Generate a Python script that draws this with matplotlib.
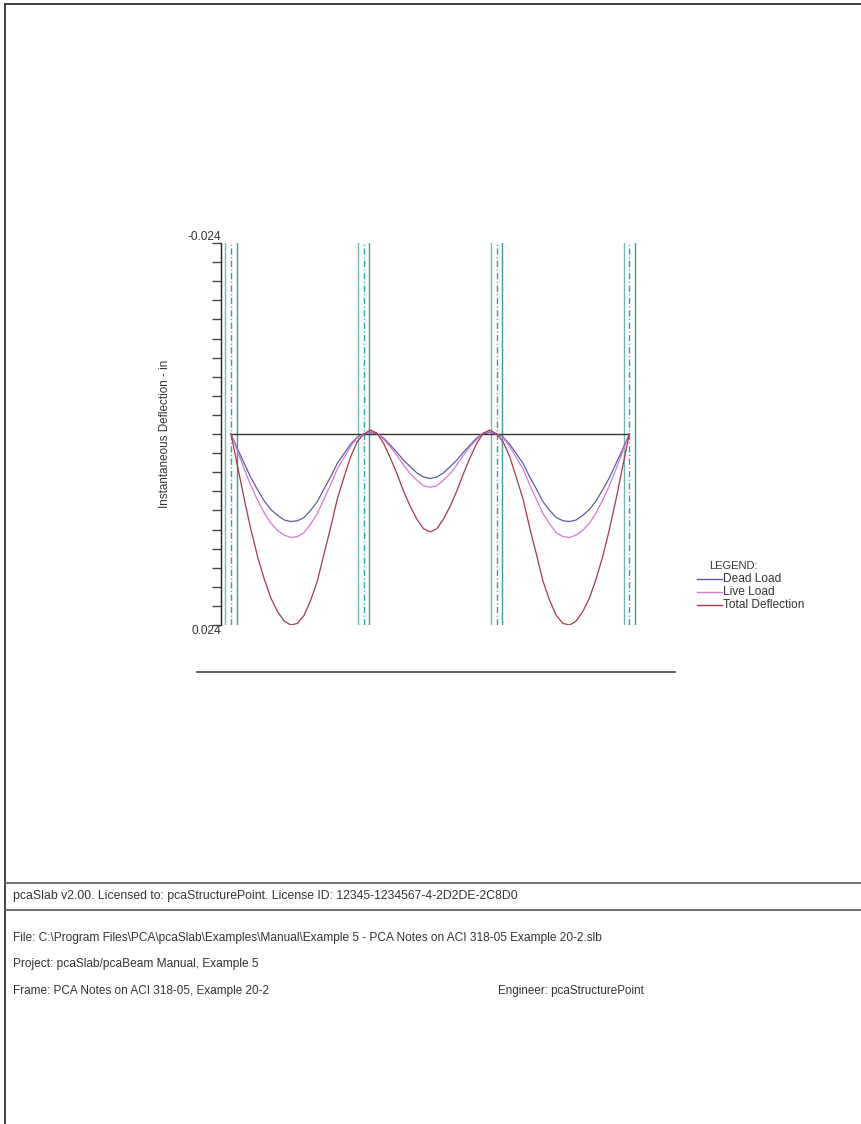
import matplotlib.pyplot as plt
from matplotlib.lines import Line2D
import numpy as np

plt.rcParams['font.family'] = ['Liberation Sans', 'DejaVu Sans']

# beam stations (ft), columns at 0, 20, 40, 60 ft, 20 in wide
x_ft = list(range(0, 61))
col_centers = [0, 20, 40, 60]
col_half = 10 / 12.0

# instantaneous deflections (in), positive = downward
dead = [0.0, 0.0019, 0.0037, 0.0055, 0.0070, 0.0084, 0.0095, 0.0102, 0.0108, 0.0110,
        0.0109, 0.0105, 0.0096, 0.0085, 0.0069, 0.0054, 0.0037, 0.0025, 0.0013, 0.0004,
        0.0, -0.0002, 0.0, 0.0005, 0.0014, 0.0023, 0.0033, 0.0041, 0.0049, 0.0054,
        0.0056, 0.0054, 0.0049, 0.0041, 0.0033, 0.0023, 0.0014, 0.0005, 0.0, -0.0002,
        0.0, 0.0004, 0.0013, 0.0025, 0.0037, 0.0054, 0.0069, 0.0085, 0.0096, 0.0105,
        0.0109, 0.0110, 0.0108, 0.0102, 0.0095, 0.0084, 0.0070, 0.0055, 0.0037, 0.0019, 0.0]
live = [0.0, 0.0022, 0.0044, 0.0065, 0.0083, 0.0099, 0.0112, 0.0121, 0.0127, 0.0130,
        0.0129, 0.0124, 0.0113, 0.0100, 0.0082, 0.0064, 0.0044, 0.0030, 0.0016, 0.0005,
        0.0, -0.0003, -0.0001, 0.0007, 0.0016, 0.0027, 0.0039, 0.0050, 0.0058, 0.0065,
        0.0067, 0.0065, 0.0058, 0.0050, 0.0039, 0.0027, 0.0016, 0.0007, -0.0001, -0.0003,
        0.0, 0.0005, 0.0016, 0.0030, 0.0044, 0.0064, 0.0082, 0.0100, 0.0113, 0.0124,
        0.0129, 0.0130, 0.0127, 0.0121, 0.0112, 0.0099, 0.0083, 0.0065, 0.0044, 0.0022, 0.0]
total = [0.0, 0.0041, 0.0082, 0.0120, 0.0154, 0.0182, 0.0206, 0.0223, 0.0235, 0.0240,
         0.0238, 0.0228, 0.0209, 0.0185, 0.0151, 0.0118, 0.0082, 0.0055, 0.0029, 0.0010,
         0.0, -0.0005, -0.0001, 0.0012, 0.0030, 0.0050, 0.0072, 0.0091, 0.0107, 0.0119,
         0.0123, 0.0119, 0.0107, 0.0091, 0.0072, 0.0050, 0.0030, 0.0012, -0.0001, -0.0005,
         0.0, 0.0010, 0.0029, 0.0055, 0.0082, 0.0118, 0.0151, 0.0185, 0.0209, 0.0228,
         0.0238, 0.0240, 0.0235, 0.0223, 0.0206, 0.0182, 0.0154, 0.0120, 0.0082, 0.0041, 0.0]

series_names = ['Dead Load', 'Live Load', 'Total Deflection']
series_colors = ['#5c5ca4', '#d27ad2', '#a33a4a']
y_lim = 0.024

license_line = 'pcaSlab v2.00. Licensed to: pcaStructurePoint. License ID: 12345-1234567-4-2D2DE-2C8D0'
footer_lines = [
    'File: C:\\Program Files\\PCA\\pcaSlab\\Examples\\Manual\\Example 5 - PCA Notes on ACI 318-05 Example 20-2.slb',
    'Project: pcaSlab/pcaBeam Manual, Example 5',
    'Frame: PCA Notes on ACI 318-05, Example 20-2',
]
engineer_line = 'Engineer: pcaStructurePoint'

W, H = 862, 1124
def fx(px):
    return px / W
def fy(py):
    return 1 - py / H

txt = '#333333'
fig = plt.figure(figsize=(W / 100, H / 100), dpi=100)

# plot area: y axis at x=221px, from 243px to 625px
ax = fig.add_axes([fx(221), fy(625), fx(640) - fx(221), fy(243) - fy(625)])
px_per_ft = (629.3 - 231) / 60.0
ax.set_xlim((221 - 231) / px_per_ft, (640 - 231) / px_per_ft)
ax.set_ylim(y_lim, -y_lim)

for s in ['top', 'right', 'bottom']:
    ax.spines[s].set_visible(False)
ax.spines['left'].set_color('#222222')
ax.spines['left'].set_linewidth(1.0)
ax.set_xticks([])
ax.set_yticks(np.linspace(-y_lim, y_lim, 21))
ax.tick_params(axis='y', direction='out', length=6.5, width=1.0, color='#444444',
               labelleft=False)

# columns: faces and centre lines
for c in col_centers:
    ax.axvline(c - col_half, color='#6fb8b8', lw=1.0)
    ax.axvline(c + col_half, color='#3a9c9c', lw=1.0)
    ax.axvline(c, color='#3a9c9c', lw=1.0, linestyle=(0, (4.5, 1.8, 0.8, 1.8)))

# reference line
ax.plot([x_ft[0], x_ft[-1]], [0, 0], color='#333333', lw=1.0)

for vals, name, col in zip([dead, live, total], series_names, series_colors):
    ax.plot(x_ft, vals, color=col, lw=0.9, label=name)

ax.text(0, 1, '-0.024', transform=ax.transAxes, ha='right', va='bottom',
        fontsize=8.6, color=txt)
ax.text(0, 0, '0.024', transform=ax.transAxes, ha='right', va='top',
        fontsize=8.6, color=txt)
fig.text(fx(165), fy(434), 'Instantaneous Deflection - in', rotation=90,
         ha='center', va='center', fontsize=8.4, color=txt)

# legend
fig.text(fx(709), fy(566), 'LEGEND:', ha='left', va='center', fontsize=8.0, color=txt)
for i, (name, col) in enumerate(zip(series_names, series_colors)):
    yy = 579 + 13 * i
    fig.add_artist(Line2D([fx(697), fx(722)], [fy(yy), fy(yy)], color=col, lw=1.0))
    fig.text(fx(723), fy(yy), name, ha='left', va='center', fontsize=8.6, color=txt)

# line under plot
fig.add_artist(Line2D([fx(197), fx(675)], [fy(672), fy(672)], color='#444444', lw=1.2))

# page frame
fig.add_artist(Line2D([fx(5), fx(5)], [fy(4), fy(1124)], color='#333333', lw=1.3))
fig.add_artist(Line2D([fx(5), fx(862)], [fy(4), fy(4)], color='#333333', lw=1.3))
fig.add_artist(Line2D([fx(5), fx(862)], [fy(883), fy(883)], color='#666666', lw=1.3))
fig.add_artist(Line2D([fx(5), fx(862)], [fy(910), fy(910)], color='#666666', lw=1.3))

fig.text(fx(13), fy(896), license_line, ha='left', va='center', fontsize=8.8, color=txt)
footer_sizes = [8.6, 8.6, 8.5]
for i, (line, fs) in enumerate(zip(footer_lines, footer_sizes)):
    fig.text(fx(13), fy(938 + 26.5 * i), line, ha='left', va='center', fontsize=fs, color=txt)
fig.text(fx(498), fy(991), engineer_line, ha='left', va='center', fontsize=8.4, color=txt)

fig.savefig('out.png', dpi=100)
